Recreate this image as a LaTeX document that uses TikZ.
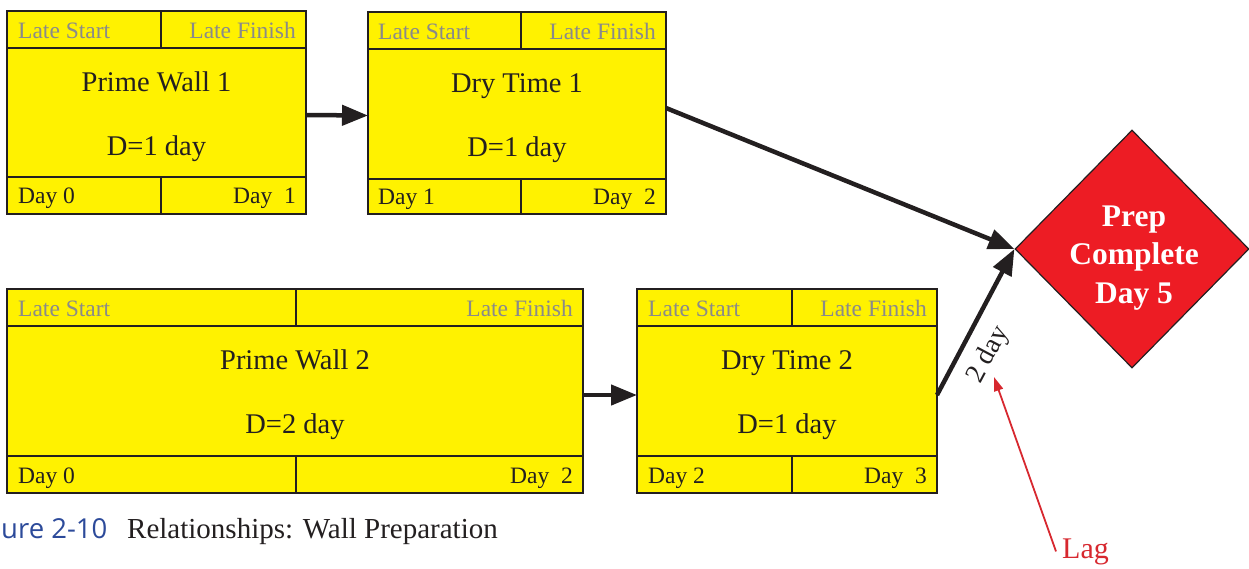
\documentclass[tikz,border=0pt]{standalone}
\usepackage{fontspec}
\setmainfont{Liberation Serif}
\newfontfamily\capfont{Open Sans}
\usetikzlibrary{arrows.meta,shapes.geometric}
\definecolor{boxyellow}{HTML}{FFF200}
\definecolor{ink}{HTML}{231F20}
\definecolor{hdrgray}{HTML}{8A8A8A}
\definecolor{milered}{HTML}{ED1C24}
\definecolor{lagred}{HTML}{D7282F}
\definecolor{capblue}{HTML}{2C4A9A}

\begin{document}
\begin{tikzpicture}[x=1pt,y=-1pt,
  actbox/.style={draw=ink, line width=2.5pt, fill=boxyellow, inner sep=0pt,
                 outer sep=0pt, anchor=north west},
  rule/.style={draw=ink, line width=2.5pt},
  hdrL/.style={text=hdrgray, font=\fontsize{23.5}{26}\selectfont, inner sep=0pt, anchor=base west},
  hdrR/.style={text=hdrgray, font=\fontsize{23.5}{26}\selectfont, inner sep=0pt, anchor=base east},
  ftrL/.style={text=ink, font=\fontsize{23.5}{26}\selectfont, inner sep=0pt, anchor=base west},
  ftrR/.style={text=ink, font=\fontsize{23.5}{26}\selectfont, inner sep=0pt, anchor=base east},
  acttitle/.style={text=ink, font=\fontsize{28.5}{30}\selectfont, inner sep=0pt, anchor=base},
  link/.style={draw=ink, line width=4.5pt, -{Triangle[length=26pt,width=20pt]}},
]
\useasboundingbox (0,0) rectangle (1249,568);

% ---- Prime Wall 1 ----
\node[actbox, minimum width=299pt, minimum height=203pt] (pw1) at (7,11) {};
\draw[rule] (7,48) -- (306,48) (7,177) -- (306,177)
            (161,11) -- (161,48) (161,177) -- (161,214);
\node[hdrL] (pw1ls) at (18,38) {Late Start};
\node[hdrR] (pw1lf) at (296,38) {Late Finish};
\node[acttitle] (pw1t) at (156.5,91) {Prime Wall 1};
\node[acttitle] (pw1d) at (156.5,155) {D=1 day};
\node[ftrL] (pw1es) at (18,203) {Day 0};
\node[ftrR] (pw1ef) at (296,203) {Day\ \ 1};

% ---- Dry Time 1 ----
\node[actbox, minimum width=298pt, minimum height=202pt] (dt1) at (368,12) {};
\draw[rule] (368,49) -- (666,49) (368,179) -- (666,179)
            (521,12) -- (521,49) (521,179) -- (521,214);
\node[hdrL] (dt1ls) at (378,39) {Late Start};
\node[hdrR] (dt1lf) at (656,39) {Late Finish};
\node[acttitle] (dt1t) at (517,92) {Dry Time 1};
\node[acttitle] (dt1d) at (517,156) {D=1 day};
\node[ftrL] (dt1es) at (378,204) {Day 1};
\node[ftrR] (dt1ef) at (656,204) {Day\ \ 2};

% ---- Prime Wall 2 ----
\node[actbox, minimum width=576pt, minimum height=204pt] (pw2) at (7,289) {};
\draw[rule] (7,326) -- (583,326) (7,456) -- (583,456)
            (296,289) -- (296,326) (296,456) -- (296,493);
\node[hdrL] (pw2ls) at (18,316) {Late Start};
\node[hdrR] (pw2lf) at (573,316) {Late Finish};
\node[acttitle] (pw2t) at (295,369) {Prime Wall 2};
\node[acttitle] (pw2d) at (295,433) {D=2 day};
\node[ftrL] (pw2es) at (18,483) {Day 0};
\node[ftrR] (pw2ef) at (573,483) {Day\ \ 2};

% ---- Dry Time 2 ----
\node[actbox, minimum width=300pt, minimum height=204pt] (dt2) at (637,289) {};
\draw[rule] (637,326) -- (937,326) (637,456) -- (937,456)
            (792,289) -- (792,326) (792,456) -- (792,493);
\node[hdrL] (dt2ls) at (648,316) {Late Start};
\node[hdrR] (dt2lf) at (927,316) {Late Finish};
\node[acttitle] (dt2t) at (787,369) {Dry Time 2};
\node[acttitle] (dt2d) at (787,433) {D=1 day};
\node[ftrL] (dt2es) at (648,483) {Day 2};
\node[ftrR] (dt2ef) at (927,483) {Day\ \ 3};

% ---- milestone ----
\node[diamond, draw=ink, line width=1.2pt, fill=milered,
      inner sep=0pt, minimum width=234pt, minimum height=238pt] (prep) at (1132,249) {};
\node[text=white, font=\bfseries\fontsize{31.5}{38.5}\selectfont, align=center,
      inner sep=0pt] (preptxt) at (1134,258) {Prep\\Complete\\Day 5};

% ---- dependencies ----
\draw[link] ([yshift=-2.5pt]pw1.east) -- ([yshift=-2.5pt]dt1.west);
\draw[link] ([yshift=-4pt]pw2.east) -- ([yshift=-4pt]dt2.west);
\draw[link] ([yshift=5pt]dt1.east) -- (prep.west);
\draw[link] ([yshift=-4pt]dt2.east) -- node[sloped, below=12pt, pos=0.36, inner sep=0pt,
      text=ink, font=\fontsize{27.5}{29}\selectfont] (lagtxt) {2 day} (prep.west);

% ---- lag callout ----
\node[text=lagred, font=\fontsize{30}{31}\selectfont, anchor=base west, inner sep=0pt]
      (lag) at (1062,558) {Lag};
\coordinate (lagtip) at (994,377);
\draw[lagred, line width=1.8pt, -{Triangle[length=14pt,width=9pt]}]
      ([xshift=-6pt]lag.west) -- (lagtip);

% ---- caption ----
\node[text=capblue, font=\capfont\fontsize{27.5}{30}\selectfont, anchor=base west, inner sep=0pt]
      (capnum) at (1,538) {ure 2-10};
\node[text=ink, font=\fontsize{29}{30}\selectfont, anchor=base west, inner sep=0pt]
      (captxt) at (127,538) {Relationships: Wall Preparation};
\end{tikzpicture}
\end{document}
